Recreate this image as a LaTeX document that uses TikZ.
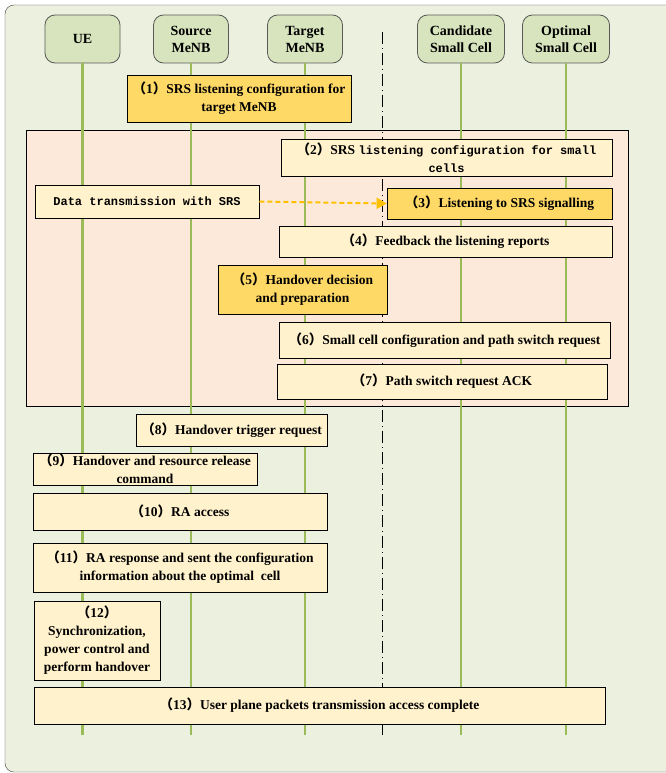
\documentclass[tikz,border=0pt]{standalone}
\usepackage{fontspec}
\setmainfont{Liberation Serif}
\setmonofont{Liberation Mono}
\newfontfamily\cjk{Noto Sans CJK SC}
\usepackage{xcolor}
\usetikzlibrary{arrows.meta}

\definecolor{bggreen}{HTML}{EBF1DE}
\definecolor{headfill}{HTML}{D7E4BD}
\definecolor{headline}{HTML}{595959}
\definecolor{framegray}{HTML}{3F3F3F}
\definecolor{lifegreen}{HTML}{9BBB59}
\definecolor{peach}{HTML}{FDE9D9}
\definecolor{msglight}{HTML}{FFF2CC}
\definecolor{msgdark}{HTML}{FFD966}
\definecolor{arrorange}{HTML}{FFC000}

% step number with full-width brackets
\newcommand{\stp}[1]{{\cjk （}#1{\cjk ）}}

\begin{document}
\begin{tikzpicture}[
    x=1pt, y=-1pt,
    entity/.style={draw=headline, fill=headfill, rounded corners=10pt,
        line width=0.8pt, align=center, inner sep=0pt,
        minimum width=75, minimum height=48,
        font=\bfseries\fontsize{14}{17}\selectfont},
    lifeline/.style={draw=lifegreen, line width=2.6pt},
    separator/.style={thin, dash pattern=on 12pt off 4pt on 1pt off 4pt},
    msg/.style={draw=black, line width=0.7pt, fill=msglight, align=center,
        inner sep=0pt, font=\bfseries\fontsize{13.5}{18}\selectfont},
    hot msg/.style={msg, fill=msgdark},
    pile/.style={arrorange, line width=2pt, dash pattern=on 5pt off 3pt,
        -{Triangle[length=10pt,width=11pt]}},
    every node/.style={color=black}
    ]
    \useasboundingbox (0,0) rectangle (666,773);
    % Frame and listening phase
    \draw[draw=framegray, fill=bggreen, rounded corners=9pt] (5,5) rectangle (680,772);
    \draw[fill=peach, line width=0.7pt] (26,130) rectangle (628,406);
    % Entities
    \node[entity] (ue) at (82.5,39) {UE};
    \node[entity] (src) at (191,39) {Source\\MeNB};
    \node[entity] (tgt) at (305,39) {Target\\MeNB};
    \node[entity, minimum width=87] (cand) at (461,39) {Candidate\\Small Cell};
    \node[entity, minimum width=87] (opt) at (566,39) {Optimal\\Small Cell};
    % Lifelines
    \coordinate (bottom) at (0,735);
    \foreach \h in {ue,src,tgt,cand,opt}
        \draw[lifeline] (\h.south) -- (\h.south |- bottom);
    \coordinate (sep top) at (382,32);
    \draw[separator] (sep top) -- (sep top |- bottom);
    % Steps
    \node[hot msg, minimum width=224, minimum height=47] (step1) at (239,98.5)
        {\stp{1}SRS listening configuration for\\target MeNB};
    \node[msg, minimum width=331, minimum height=37] (step2) at (446.5,157.5)
        {\stp{2}SRS {\ttfamily\fontsize{12}{18}\selectfont listening configuration for small}\\{\ttfamily\fontsize{12}{18}\selectfont cells}};
    \node[msg, minimum width=224, minimum height=33] (data) at (147,201.5)
        {\ttfamily\fontsize{12}{18}\selectfont Data transmission with SRS};
    \node[hot msg, minimum width=225, minimum height=31] (step3) at (499.5,203.5)
        {\stp{3}Listening to SRS signalling};
    \node[msg, minimum width=333, minimum height=31] (step4) at (445.5,241.5)
        {\stp{4}Feedback the listening reports};
    \node[hot msg, minimum width=169, minimum height=49] (step5) at (302.5,289.5)
        {\stp{5}Handover decision\\and preparation};
    \node[msg, minimum width=331, minimum height=36] (step6) at (444.5,340)
        {\stp{6}Small cell configuration and path switch request};
    \node[msg, minimum width=330, minimum height=35] (step7) at (442,381.5)
        {\stp{7}Path switch request ACK};
    \node[msg, minimum width=191, minimum height=32] (step8) at (231.5,430)
        {\stp{8}Handover trigger request};
    \node[msg, minimum width=224, minimum height=32] (step9) at (145,469)
        {\stp{9}Handover and resource release\\command};
    \node[msg, minimum width=294, minimum height=37] (step10) at (180,511.5)
        {\stp{10}RA access};
    \node[msg, minimum width=294, minimum height=49] (step11) at (180,567.5)
        {\stp{11}RA response and sent the configuration\\information about the optimal\ \ cell};
    \node[msg, minimum width=126, minimum height=79] (step12) at (97,640.5)
        {\stp{12}\\Synchronization,\\power control and\\perform handover};
    \node[msg, minimum width=571, minimum height=37] (step13) at (319.5,705.5)
        {\stp{13}User plane packets transmission access complete};
    % SRS data seen by the candidate cells
    \draw[pile] (data.east) -- (step3.west);
\end{tikzpicture}
\end{document}
